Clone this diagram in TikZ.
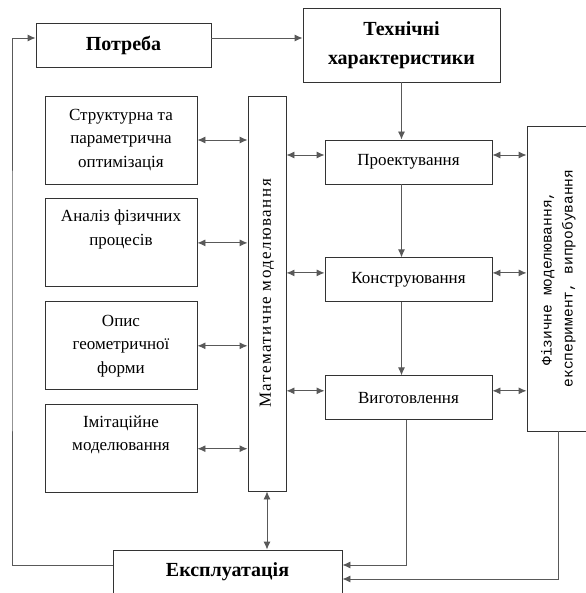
\documentclass[tikz,border=0pt]{standalone}
\usepackage{fontspec}
\setmainfont{Liberation Serif}
\newfontfamily\monofnt{Liberation Mono}
\newfontfamily\widefnt[LetterSpace=8.5]{Liberation Serif}
\usetikzlibrary{positioning,arrows.meta}

\begin{document}
\begin{tikzpicture}[x=1pt,y=-1pt,>={Latex[length=8pt,width=7pt]},
    every node/.style={draw=black!80,line width=0.9pt,inner sep=0pt},
    bigbox/.style={font=\bfseries\fontsize{20}{29}\selectfont,align=center},
    stage/.style={minimum width=167pt,minimum height=44pt,font=\fontsize{17}{20}\selectfont},
    task/.style={minimum width=152pt,minimum height=88pt,align=center,font=\fontsize{17}{23.5}\selectfont},
    link/.style={draw=black!65,line width=0.9pt,->},
    both/.style={draw=black!65,line width=0.9pt,<->}]
  \useasboundingbox (0,0) rectangle (585,593);

  % top row
  \node [bigbox,minimum width=175pt,minimum height=44pt] (need) at (123.5,45) {Потреба};
  \node [bigbox,minimum width=197pt,minimum height=74pt] (tech) at (401.5,45) {Технічні\\характеристики};

  % design chain
  \node [stage] (proj) at (408.5,162) {Проектування};
  \node [stage,below=73pt of proj] (constr) {Конструювання};
  \node [stage,below=73pt of constr] (make) {Виготовлення};

  % left column
  \node [task] (opt) at (121,140) {Структурна та\\параметрична\\оптимізація};
  \node [task,below=14pt of opt] (anal) {Аналіз фізичних\\процесів\\\strut};
  \node [task,below=14pt of anal] (geom) {Опис\\геометричної\\форми};
  \node [task,below=14pt of geom] (imit) {Імітаційне\\моделювання\\\strut};

  % the two tall boxes
  \node [minimum width=38pt,minimum height=395pt,font=\widefnt\fontsize{17}{20}\selectfont] (math) at (267,293.5)
    {\rotatebox{90}{Математичне моделювання}};
  \node [minimum width=62pt,minimum height=305pt] (phys) at (558,278.5)
    {\rotatebox{90}{\monofnt\fontsize{14.5}{21}\selectfont
      \begin{tabular}{@{}c@{}}Фізичне моделювання,\\експеримент, випробування\end{tabular}}};

  \node [bigbox,minimum width=229pt,minimum height=44pt] (use) at (227.5,572) {Експлуатація};
  \coordinate (loop) at (12,300);

  \draw [link] ([yshift=7pt]need.east) -- ([yshift=7pt]tech.west);
  \draw [link] (tech.south) -- (tech.south |- proj.north);
  \draw [link] (tech.south |- proj.south) -- (tech.south |- constr.north);
  \draw [link] (tech.south |- constr.south) -- (tech.south |- make.north);

  \foreach \t in {opt,anal,geom,imit}
    \draw [both] (\t.east) -- (\t.east -| math.west);
  \foreach \s in {proj,constr,make} {
    \draw [both] ([yshift=7pt]\s.west) -- ([yshift=7pt]\s.west -| math.east);
    \draw [both] ([yshift=7pt]\s.east) -- ([yshift=7pt]\s.east -| phys.west);
  }
  \draw [both] (math.south) -- (math.south |- use.north);

  % feedback
  \draw [link] ([xshift=-2pt]make.south) |- ([yshift=7pt]use.east);
  \draw [link] (phys.south) |- ([yshift=-7pt]use.east);
  \draw [link] ([yshift=7pt]use.west) -| (loop) |- ([yshift=7pt]need.west);
\end{tikzpicture}
\end{document}
